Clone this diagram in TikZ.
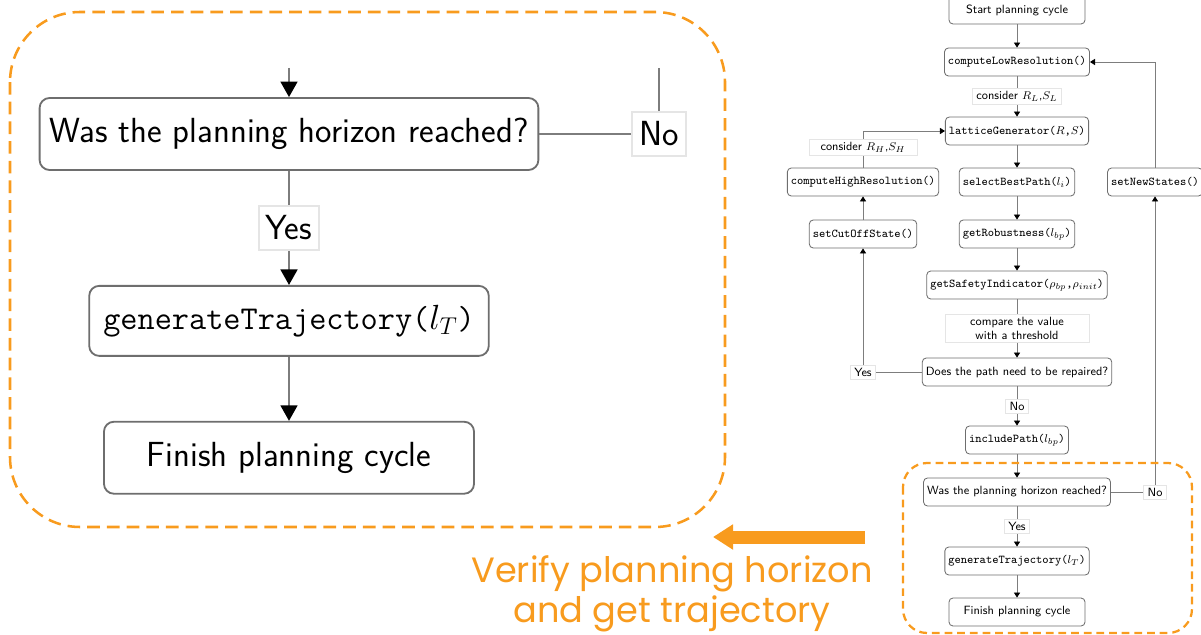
\documentclass[tikz,border=0pt]{standalone}
\usepackage{amsmath}
\usepackage{fontspec}
\newfontfamily\notefont{Poppins}
\usepackage{tikz}
\usetikzlibrary{arrows.meta,positioning}

\definecolor{hlorange}{RGB}{248,155,30}
\definecolor{linegray}{RGB}{125,125,125}
\definecolor{boxgray}{RGB}{110,110,110}

\newcommand{\smallfont}{\sffamily\fontsize{8.5}{10}\selectfont}
\newcommand{\bigfont}{\sffamily\fontsize{24.8}{29}\selectfont}
\newcommand{\bigttfont}{\ttfamily\fontsize{23.7}{28}\selectfont}

\begin{document}
\begin{tikzpicture}[
    x=0.025cm, y=-0.025cm,
    box/.style={rectangle, rounded corners=0.1cm, draw=boxgray, line width=0.6pt, fill=white, minimum height=0.7cm, inner xsep=2.5pt, font=\smallfont},
    lbl/.style={rectangle, draw=gray!20, fill=white, inner xsep=3pt, inner ysep=2pt, font=\smallfont},
    arrow/.style={-{Triangle[length=3.6pt, width=4.4pt, color=black]}, draw=linegray, line width=0.6pt},
    bigbox/.style={rectangle, rounded corners=0.25cm, draw=boxgray, line width=1.3pt, fill=white, minimum height=1.8cm, inner xsep=7pt, font=\bigfont},
    biglbl/.style={rectangle, draw=gray!20, fill=white, minimum height=1.1cm, inner xsep=5pt, font=\bigfont},
    bigarrow/.style={-{Triangle[length=11pt, width=12pt, color=black]}, draw=linegray, line width=1.4pt},
    bigline/.style={draw=linegray, line width=1.4pt},
    hilite/.style={draw=hlorange, dashed}
]
\useasboundingbox (0,0) rectangle (1201,635);

% main planning loop
\node[box, minimum width=3.4cm] (start) at (1017,10) {Start planning cycle};
\node[box] (lowres) at (1017,62) {\texttt{computeLowResolution()}};
\node[box] (lattice) at (1017,131) {\texttt{latticeGenerator($R$,$S$)}};
\node[box] (select) at (1017,182) {\texttt{selectBestPath($l_i$)}};
\node[box] (robust) at (1017,234) {\texttt{getRobustness($l_{bp}$)}};
\node[box] (safety) at (1017,285) {\texttt{getSafetyIndicator($\rho_{bp}$,$\rho_{init}$)}};
\node[box] (repair) at (1017,372) {Does the path need to be repaired?};
\node[box] (include) at (1017,440) {\texttt{includePath($l_{bp}$)}};
\node[box] (horizon) at (1017,492) {Was the planning horizon reached?};
\node[box] (trajectory) at (1017,561) {\texttt{generateTrajectory($l_T$)}};
\node[box, minimum width=3.4cm] (finish) at (1017,612) {Finish planning cycle};

% side branches
\node[box] (highres) at (863,0 |- select) {\texttt{computeHighResolution()}};
\node[box] (cutoff) at (863,0 |- robust) {\texttt{setCutOffState()}};
\node[box] (newstates) at (1155,0 |- select) {\texttt{setNewStates()}};

\draw[arrow] (start) -- (lowres);
\draw[arrow] (lowres) -- node[lbl] {consider $R_L$,$S_L$} (lattice);
\draw[arrow] (lattice) -- (select);
\draw[arrow] (select) -- (robust);
\draw[arrow] (robust) -- (safety);
\draw[arrow] (safety) -- node[lbl, minimum width=3.6cm, align=center] {compare the value\\with a threshold} (repair);
\draw[arrow] (repair) -- node[lbl] {No} (include);
\draw[arrow] (include) -- (horizon);
\draw[arrow] (horizon) -- node[lbl] {Yes} (trajectory);
\draw[arrow] (trajectory) -- (finish);
\draw[arrow] (repair.west) -| node[lbl, pos=0.5] {Yes} (cutoff.south);
\draw[arrow] (cutoff) -- (highres);
\draw[arrow] (highres.north) |- node[lbl, pos=0.28, minimum width=2.7cm] {consider $R_H$,$S_H$} (lattice.west);
\draw[arrow] (horizon.east) -| node[lbl, pos=0.5] {No} (newstates.south);
\draw[arrow] (newstates.north) |- (lowres.east);

\draw[hilite, line width=1.6pt, dash pattern=on 5.5pt off 3.5pt, rounded corners=0.6cm] (903,463) rectangle (1192,633);

% enlarged view of the last step
\coordinate (bigin) at (289,68);
\coordinate (bignoend) at (659,68);
\node[bigbox] (bighorizon) at (289,134) {Was the planning horizon reached?};
\node[bigbox, font=\bigttfont, inner xsep=10pt, minimum height=1.75cm, below=2.85cm of bighorizon] (bigtrajectory) {generateTrajectory($l_T$)};
\node[bigbox, minimum width=9.25cm, below=1.6cm of bigtrajectory] (bigfinish) {Finish planning cycle};

\draw[bigarrow] (bigin) -- (bighorizon);
\draw[bigline] (bighorizon.east) -| node[biglbl, pos=0.5] {No} (bignoend);
\draw[bigarrow] (bighorizon) -- node[biglbl] {Yes} (bigtrajectory);
\draw[bigarrow] (bigtrajectory) -- (bigfinish);

\draw[hilite, line width=1.8pt, dash pattern=on 9pt off 5pt, rounded corners=1.75cm] (10,12) rectangle (725,527);

% pointer and caption
\coordinate (pointfrom) at (865,537);
\coordinate (pointto) at (713,537);
\draw[hlorange, line width=0.325cm, -{Triangle[length=0.5cm, width=0.6cm]}] (pointfrom) -- (pointto);
\node[text=hlorange, font=\notefont\fontsize{25}{28.5}\selectfont, align=center] (caption) at (672,594) {Verify planning horizon\\and get trajectory};
\end{tikzpicture}
\end{document}
